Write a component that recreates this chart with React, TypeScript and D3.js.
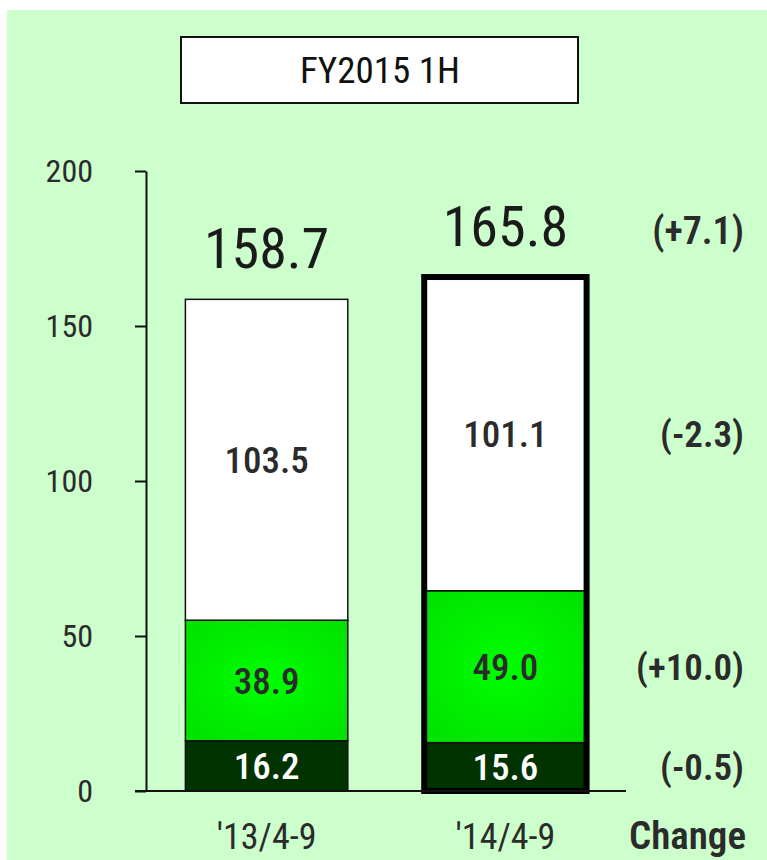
import React, { useEffect, useRef } from "react";
import * as d3 from "d3";

// chart values
const periods = ["′13/4-9", "′14/4-9"];
const bottomSeg = [16.2, 15.6];
const middleSeg = [38.9, 49.0];
const topSeg = [103.5, 101.1];
const totals = [158.7, 165.8];
const changeTotal = "(+7.1)";
const changes = ["(-0.5)", "(+10.0)", "(-2.3)"];
const yTicks = [0, 50, 100, 150, 200];
const title = "FY2015 1H";

const FONT = "'Roboto Condensed', 'Liberation Sans Narrow', 'DejaVu Sans Condensed', Roboto, sans-serif";
const TEXT = "#2b2b2b";

const App = () => {
  const ref = useRef<SVGSVGElement>(null);

  useEffect(() => {
    const svg = d3.select(ref.current);
    svg.selectAll("*").remove();

    const W = 767, H = 860;
    const left = 146, right = 626, bottom = 791, top = 171;

    // background panel
    svg.append("rect").attr("x", 7).attr("y", 10).attr("width", W - 7).attr("height", H - 10).attr("fill", "#ccffcc");

    const defs = svg.append("defs");
    const grad = defs.append("radialGradient").attr("id", "greenGlow").attr("cx", "50%").attr("cy", "50%").attr("r", "65%");
    grad.append("stop").attr("offset", "0%").attr("stop-color", "#00ff00");
    grad.append("stop").attr("offset", "100%").attr("stop-color", "#00e200");

    // title box
    svg.append("rect").attr("x", 181).attr("y", 37).attr("width", 397).attr("height", 66)
      .attr("fill", "#ffffff").attr("stroke", "#111").attr("stroke-width", 2);
    svg.append("text").attr("x", 380).attr("y", 83).attr("text-anchor", "middle")
      .style("font-family", FONT).style("font-size", "37px").attr("fill", "#111").text(title);

    const x = d3.scaleBand().domain(periods).range([left, right]).paddingInner(0.32).paddingOuter(0.165);
    const y = d3.scaleLinear().domain([0, 200]).range([bottom, top]);

    // y axis
    const yAxis = svg.append("g").attr("transform", `translate(${left},0)`)
      .call(d3.axisLeft(y).tickValues(yTicks).tickSize(11).tickPadding(42).tickSizeOuter(0));
    yAxis.select(".domain").attr("stroke", "#111").attr("stroke-width", 2);
    yAxis.selectAll(".tick line").attr("stroke", "#111").attr("stroke-width", 2);
    yAxis.selectAll(".tick text").style("font-family", FONT).style("font-size", "32px").attr("fill", TEXT);

    // stacked segments
    const layers = [
      { vals: bottomSeg, fill: "#003300", color: "#ffffff" },
      { vals: middleSeg, fill: "url(#greenGlow)", color: TEXT },
      { vals: topSeg, fill: "#ffffff", color: TEXT },
    ];
    const bw = x.bandwidth();
    periods.forEach((p, i) => {
      let base = 0;
      layers.forEach((l) => {
        const v = l.vals[i];
        const y0 = y(base), y1 = y(base + v);
        svg.append("rect").attr("x", x(p)!).attr("y", y1).attr("width", bw).attr("height", y0 - y1)
          .attr("fill", l.fill).attr("stroke", "#111").attr("stroke-width", 1.5);
        svg.append("text").attr("x", x(p)! + bw / 2).attr("y", (y0 + y1) / 2).attr("dy", "0.36em")
          .attr("text-anchor", "middle").style("font-family", FONT).style("font-size", "37px")
          .style("font-weight", "500").attr("fill", l.color).text(v.toFixed(1));
        base += v;
      });
      // total label
      svg.append("text").attr("x", x(p)! + bw / 2).attr("y", y(totals[i]) - 31).attr("text-anchor", "middle")
        .style("font-family", FONT).style("font-size", "56px").attr("fill", "#1a1a1a").text(totals[i].toFixed(1));
      // x label
      svg.append("text").attr("x", x(p)! + bw / 2).attr("y", 849).attr("text-anchor", "middle")
        .style("font-family", FONT).style("font-size", "36px").attr("fill", TEXT).text(p);
    });

    // thick outline on current period
    const last = periods[periods.length - 1];
    svg.append("rect").attr("x", x(last)!).attr("y", y(totals[1])).attr("width", bw)
      .attr("height", bottom - y(totals[1])).attr("fill", "none").attr("stroke", "#000").attr("stroke-width", 6);

    // baseline
    svg.append("line").attr("x1", left - 11).attr("x2", right).attr("y1", bottom).attr("y2", bottom)
      .attr("stroke", "#111").attr("stroke-width", 2);

    // change column
    const cx = 744;
    let base = 0;
    [bottomSeg[1], middleSeg[1], topSeg[1]].forEach((v, k) => {
      const mid = (y(base) + y(base + v)) / 2;
      svg.append("text").attr("x", cx).attr("y", mid).attr("dy", "0.36em").attr("text-anchor", "end")
        .style("font-family", FONT).style("font-size", "37px").style("font-weight", "600")
        .attr("fill", TEXT).text(changes[k]);
      base += v;
    });
    svg.append("text").attr("x", cx).attr("y", y(totals[1]) - 33).attr("text-anchor", "end")
      .style("font-family", FONT).style("font-size", "38px").style("font-weight", "600")
      .attr("fill", TEXT).text(changeTotal);
    svg.append("text").attr("x", 746).attr("y", 849).attr("text-anchor", "end")
      .style("font-family", FONT).style("font-size", "39px").style("font-weight", "600")
      .attr("fill", TEXT).text("Change");
  }, []);

  return <svg ref={ref} width={767} height={860} style={{ position: "absolute", left: 0, top: 0 }} />;
};

export default App;
